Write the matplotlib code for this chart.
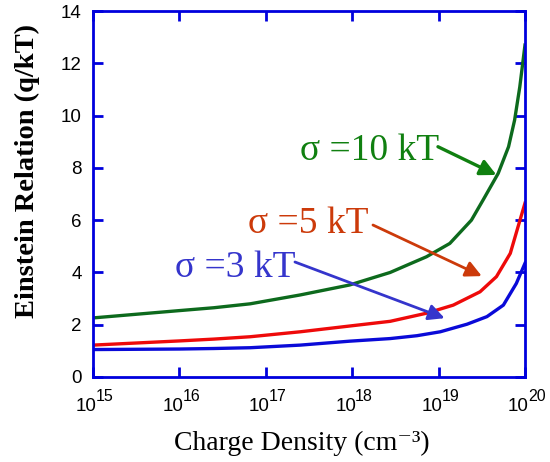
import numpy as np
import matplotlib
matplotlib.use("Agg")
import matplotlib.pyplot as plt

plt.rcParams['font.family'] = ['Liberation Sans', 'DejaVu Sans']

# log10 of charge density (cm^-3) and Einstein relation
logn_10 = [15, 15.5, 16, 16.4, 16.82, 17.4, 17.97, 18.44, 18.67, 18.86, 19.13, 19.38,
           19.52, 19.69, 19.81, 19.88, 19.94, 20]
er_10 = [2.26, 2.4, 2.54, 2.65, 2.8, 3.14, 3.52, 4.0, 4.33, 4.6, 5.11, 6.0,
         6.8, 7.79, 8.81, 9.83, 11.1, 12.7]

logn_5 = [15, 15.5, 16, 16.4, 16.82, 17.4, 17.97, 18.44, 18.86, 19.17, 19.48, 19.67,
          19.83, 19.92, 20]
er_5 = [1.22, 1.3, 1.38, 1.45, 1.54, 1.73, 1.95, 2.13, 2.44, 2.75, 3.26, 3.84,
        4.73, 5.75, 6.65]

logn_3 = [15, 15.5, 16, 16.4, 16.82, 17.4, 17.97, 18.44, 18.75, 19.02, 19.33, 19.56,
          19.75, 19.9, 20]
er_3 = [1.05, 1.06, 1.07, 1.09, 1.12, 1.22, 1.37, 1.47, 1.58, 1.73, 2.02, 2.31,
        2.75, 3.58, 4.35]

labels = ["σ =10 kT", "σ =5 kT", "σ =3 kT"]
xticks_exp = [15, 16, 17, 18, 19, 20]

fig = plt.figure(figsize=(5.5, 4.62), dpi=100)
ax = fig.add_axes([0.169, 0.184, 0.7855, 0.792])

ax.plot(10 ** np.array(logn_10), er_10, color='#0d6a1d', lw=2.4, solid_joinstyle='round')
ax.plot(10 ** np.array(logn_5), er_5, color='#ee0a0a', lw=2.4, solid_joinstyle='round')
ax.plot(10 ** np.array(logn_3), er_3, color='#0a0ad8', lw=2.4, solid_joinstyle='round')

ax.set_xscale('log')
ax.set_xlim(1e15, 1e20)
ax.set_ylim(0, 14)
ax.set_xticks([10.0 ** e for e in xticks_exp])
ax.minorticks_off()
ax.set_yticks(range(0, 15, 2))
ax.set_xticklabels([])

for s in ax.spines.values():
    s.set_color('#0000dd')
    s.set_linewidth(2)
ax.tick_params(which='major', direction='in', length=7, width=2, color='#0000dd',
               top=True, right=True, labelsize=13.5, pad=8)

# x tick labels 10^n with large exponents
for e in xticks_exp:
    ax.annotate("10", xy=(10.0 ** e, 0), xycoords=('data', 'axes fraction'),
                xytext=(4, -34), textcoords='offset pixels', ha='right', va='baseline',
                fontsize=13.5)
    ax.annotate(str(e), xy=(10.0 ** e, 0), xycoords=('data', 'axes fraction'),
                xytext=(3, -24), textcoords='offset pixels', ha='left', va='baseline',
                fontsize=11.5)

ax.set_ylabel("Einstein Relation (q/kT)", family='Liberation Serif', fontweight='bold',
              fontsize=20.5)
ax.yaxis.set_label_coords(-0.123, 0.563)
ax.set_xlabel("Charge Density (cm⁻³)", family=['Liberation Serif', 'DejaVu Serif'],
              fontsize=20)
ax.xaxis.set_label_coords(0.483, -0.148)

# annotations: text plus arrows
ax.text(10 ** 17.396, 8.30, labels[0], color='#108010', fontsize=27,
        family='Liberation Serif', va='baseline')
ax.annotate('', xy=(10 ** 19.67, 7.73), xytext=(10 ** (15 + 345 / 86.4), (377 - 146.7) / 26.14),
            arrowprops=dict(arrowstyle='-|>', color='#108010', lw=2.4,
                            mutation_scale=24, shrinkA=0, shrinkB=0))

ax.text(10 ** 16.794, 5.51, labels[1], color='#cc3a0a', fontsize=27,
        family='Liberation Serif', va='baseline')
ax.annotate('', xy=(10 ** 19.50, 3.86), xytext=(10 ** (15 + 280 / 86.4), (377 - 225) / 26.14),
            arrowprops=dict(arrowstyle='-|>', color='#cc3a0a', lw=2.0,
                            mutation_scale=24, shrinkA=0, shrinkB=0))

ax.text(10 ** 15.949, 3.83, labels[2], color='#3535cc', fontsize=27,
        family='Liberation Serif', va='baseline')
ax.annotate('', xy=(10 ** 19.07, 2.25), xytext=(10 ** (15 + 202 / 86.4), (377 - 262) / 26.14),
            arrowprops=dict(arrowstyle='-|>', color='#3535cc', lw=2.0,
                            mutation_scale=24, shrinkA=0, shrinkB=0))

fig.savefig("out.png", dpi=100)
